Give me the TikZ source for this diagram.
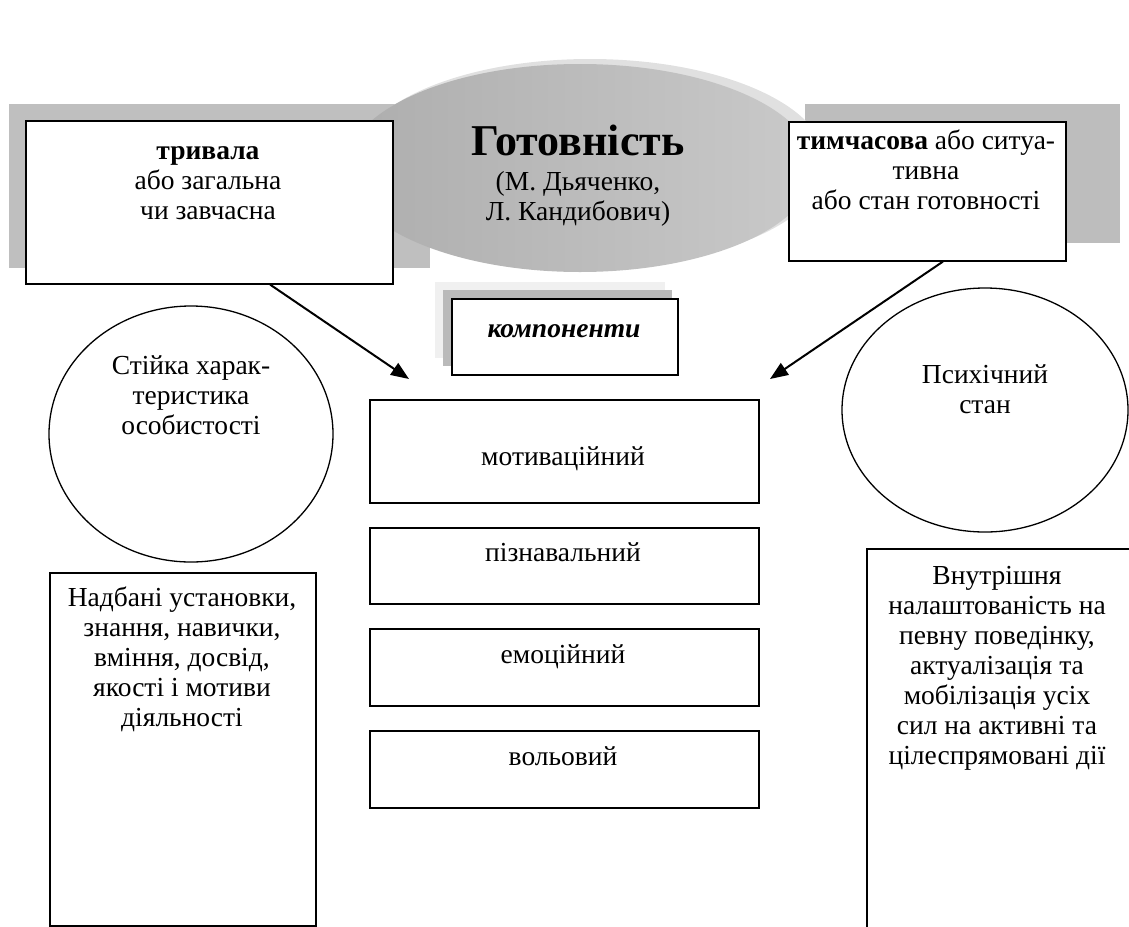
\documentclass[tikz,border=0pt]{standalone}
\usepackage{fontspec}
\setmainfont{Liberation Serif}
\usetikzlibrary{arrows.meta, calc, shapes.geometric}

\newcommand{\bodysize}{\fontsize{27.5}{30}\selectfont}
\tikzset{
	frame/.style={draw, line width=1.6pt, fill=white, inner sep=0pt, anchor=north west},
	oval/.style={draw, ellipse, line width=1.3pt, inner sep=0pt},
	words/.style={align=center, font=\bodysize, inner sep=0pt, anchor=north, execute at begin node=\strut},
	oneline/.style={font=\bodysize, inner sep=0pt, anchor=base},
	pointer/.style={-{Triangle[length=18pt, width=14pt]}, line width=2pt},
}

\begin{document}
\begin{tikzpicture}[x=1pt, y=-1pt]
	\useasboundingbox (0,0) rectangle (1129,926);

	% grey bands behind the top row
	\fill[black!25] (9,104) rectangle (430,268);
	\fill[black!26] (805,104) rectangle (1120,243);

	% the disc
	\fill[black!12] (590,163) ellipse [x radius=236, y radius=104];
	\shade[left color=black!32, middle color=black!24, right color=black!21] (580,168) ellipse [x radius=234, y radius=104];
	\node[font=\bfseries\fontsize{44}{48}\selectfont, inner sep=0pt] (title) at (578,140) {Готовність};
	\node[words] (authors) at (578,171) {(М. Дьяченко,\\ Л. Кандибович)};

	% top boxes
	\node[frame, minimum width=367pt, minimum height=163pt] (lasting) at (25,120) {};
	\node[words] (lastingtxt) at (208,146) {\textbf{тривала}\\ або загальна\\ чи завчасна};
	\node[frame, minimum width=277pt, minimum height=139pt] (passing) at (788,121) {};
	\node[words] (passingtxt) at (926,130) {\textbf{тимчасова} або ситуа-\\ тивна\\ або стан готовності};

	% components label with its shadows
	\fill[black!6] (435,282) rectangle (665,358);
	\fill[black!27] (443,290) rectangle (672,366);
	\node[frame, minimum width=226pt, minimum height=76pt] (comp) at (451,298) {};
	\node[oneline, font=\bfseries\itshape\bodysize] (comptxt) at (564,337) {компоненти};

	% arrows
	\coordinate (tipL) at (409,379);
	\coordinate (tipR) at (770,379);
	\draw[pointer] ($(lasting.south west)!0.665!(lasting.south east)$) -- (tipL);
	\draw[pointer] ($(passing.south west)!0.556!(passing.south east)$) -- (tipR);

	% component boxes
	\node[frame, minimum width=389pt, minimum height=103pt] (motiv) at (369,399) {};
	\node[oneline] (motivtxt) at (563,465) {мотиваційний};
	\node[frame, minimum width=389pt, minimum height=76pt] (cogn) at (369,527) {};
	\node[oneline] (cogntxt) at (563,561) {пізнавальний};
	\node[frame, minimum width=389pt, minimum height=77pt] (emot) at (369,628) {};
	\node[oneline] (emottxt) at (563,663) {емоційний};
	\node[frame, minimum width=389pt, minimum height=77pt] (will) at (369,730) {};
	\node[oneline] (willtxt) at (563,765) {вольовий};

	% side ovals
	\node[oval, minimum width=284pt, minimum height=256pt] (steady) at (191,434) {};
	\node[words] (steadytxt) at (191,355) {Стійка харак-\\ теристика\\ особистості};
	\node[oval, minimum width=286pt, minimum height=244pt] (mental) at (985,410) {};
	\node[words] (mentaltxt) at (985,364) {Психічний\\ стан};

	% bottom boxes
	\node[frame, minimum width=266pt, minimum height=353pt] (acquired) at (49,572) {};
	\node[words] (acquiredtxt) at (182,587) {Надбані установки,\\ знання, навички,\\ вміння, досвід,\\ якості і мотиви\\ діяльності};
	\node[frame, minimum width=300pt, minimum height=400pt] (inner) at (866,548) {};
	\node[words] (innertxt) at (997,566) {Внутрішня\\ налаштованість на\\ певну поведінку,\\ актуалізація та\\ мобілізація усіх\\ сил на активні та\\ цілеспрямовані дії};
\end{tikzpicture}
\end{document}
